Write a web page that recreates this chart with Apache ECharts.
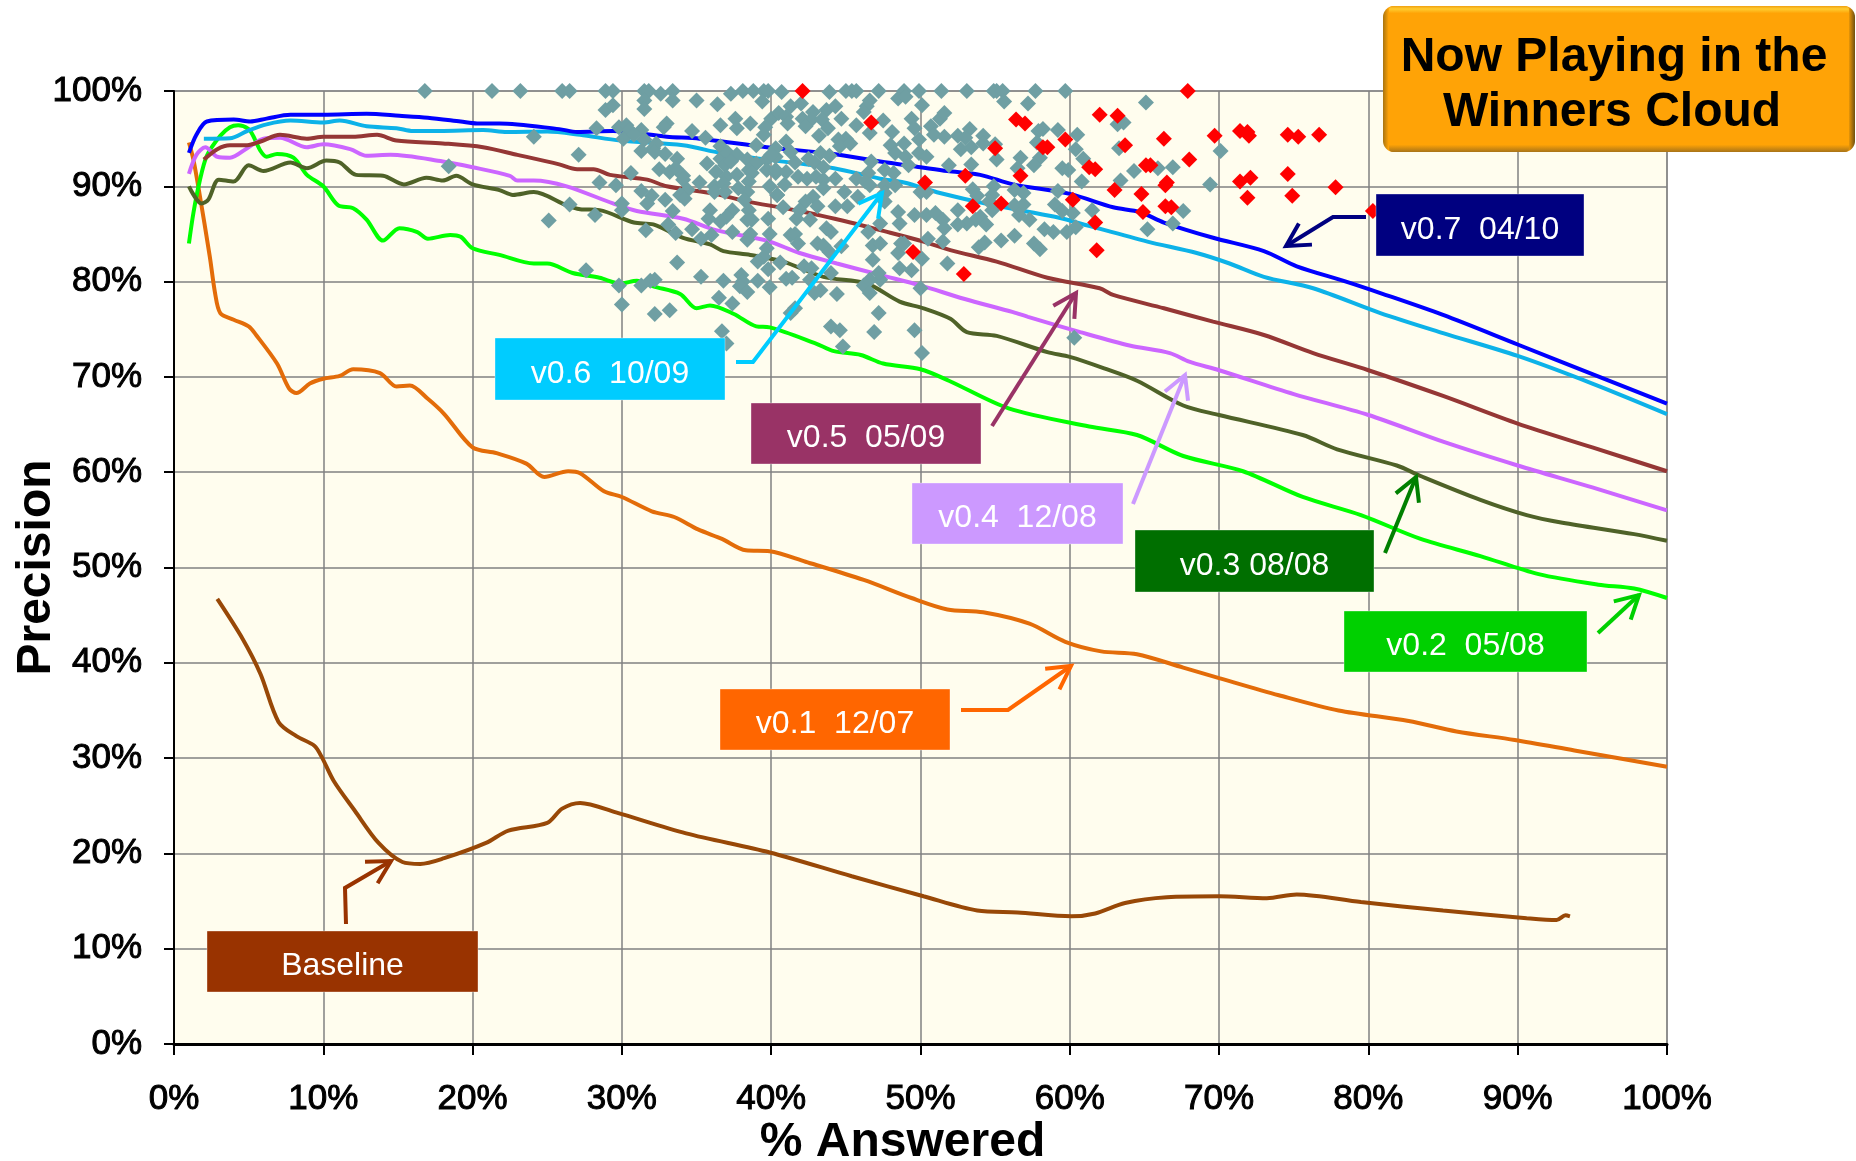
<!DOCTYPE html>
<html>
<head>
<meta charset="utf-8">
<title>Winners Cloud</title>
<script src="https://cdn.jsdelivr.net/npm/echarts@6/dist/echarts.min.js"></script>
<style>
  html, body { margin: 0; padding: 0; background: #fff; }
  #chart { width: 1856px; height: 1161px; }
</style>
</head>
<body>
<div id="chart"></div>
<script>
// precision curves, [% answered, precision]
var baseline = [[2.9,46.7],[4.6,42.5],[5.8,38.8],[7,33.8],[8.2,32.3],[9.4,31.3],[9.9,30.1],[10.7,27.6],[12.1,24.5],[13.7,21.1],[15.3,19.1],[16.5,18.9],[18.1,19.5],[20.9,21.1],[22.4,22.4],[25,23.2],[26,24.7],[27.2,25.3],[29.6,24.3],[34.3,22.1],[39.9,20.1],[45.4,17.6],[50.2,15.5],[53.8,14],[56.5,13.8],[60.1,13.4],[61.7,13.7],[63.7,14.8],[66.5,15.4],[70,15.5],[73.2,15.3],[75.2,15.7],[79.5,14.9],[85,14],[90.6,13.2],[92.6,13],[93.2,13.5],[93.5,13.4]];
var v01 = [[1,94.6],[1.3,92.8],[1.7,89.3],[2.4,82.6],[2.75,78.8],[3.1,76.7],[4,76],[5,75.3],[5.5,74.4],[6.9,71.4],[7.7,68.8],[8.2,68.3],[9.1,69.3],[10,69.8],[11.1,70.1],[12,70.8],[13.8,70.4],[14.9,69],[15.8,69.1],[17,67.7],[18.1,66.1],[20,62.6],[21.6,62],[23.6,60.9],[24.8,59.5],[26.4,60.1],[27.2,59.9],[28.8,58],[30,57.4],[32,55.9],[33.5,55.3],[35.1,54],[36.7,53],[38.3,51.8],[39.9,51.7],[42.3,50.6],[46.2,48.7],[49.4,46.8],[51.8,45.6],[54.2,45.3],[57.3,44.1],[59.7,42.2],[62.1,41.2],[64.5,40.9],[67.6,39.5],[70,38.4],[74,36.6],[78,35],[82.7,33.9],[85.9,32.8],[89.8,31.9],[93.8,30.8],[100,29.1]];
var v02 = [[1,84],[1.3,87.2],[1.7,90.4],[2.2,93.2],[3.1,95.3],[3.75,96.2],[4.3,96.4],[5,96],[5.3,95.3],[5.8,93.7],[6.2,93.1],[6.9,93.4],[8,93],[8.9,91.2],[10,90],[11,88],[12,87.7],[12.9,86.5],[14,84.3],[15.1,85.6],[16.3,85.2],[17,84.5],[18.5,84.9],[19.2,84.7],[20,83.5],[21.8,82.8],[24.1,81.9],[25,81.9],[26.7,80.9],[28.5,80.4],[29.9,79.8],[31,80.1],[32.1,79.5],[33.9,78.7],[35,77.2],[35.9,77.5],[37.5,76.6],[39,75.3],[39.9,75.2],[43,73.5],[44.2,72.7],[46,72.3],[47.5,71.4],[50,70.8],[51.9,69.6],[55.9,66.7],[61.3,64.8],[64.5,63.9],[67.6,61.7],[71.6,60.1],[75.6,57.4],[79.5,55.5],[83.5,53],[87.5,51.2],[91.4,49.3],[95.4,48.2],[97.8,47.8],[100,46.8]];
var v03 = [[1,90],[1.85,88.2],[2.3,88.6],[3,90.7],[4,90.5],[5,92.2],[6,91.6],[7.8,92.5],[8.9,91.9],[10.2,92.7],[11.1,92.5],[12.2,91.2],[14,91.1],[15.4,90.2],[16.9,90.9],[18,90.6],[18.9,91.1],[20,90.2],[21.8,89.6],[22.7,89.1],[24.1,89.4],[26.3,88],[27.2,87.6],[28.5,87.5],[30.8,86.2],[32.1,86],[34.1,84.6],[35.9,83.9],[36.8,83.2],[38.6,82.8],[40.8,82.1],[43.5,80.5],[46.4,79.8],[48.6,77.9],[50.2,77.2],[52,76.1],[53.1,74.7],[55.1,74.3],[58.5,72.6],[60,72.1],[62.3,70.9],[64.5,69.6],[67.6,67],[70,66],[75.6,63.9],[77.9,62.4],[81.9,60.7],[83.5,59.6],[87.5,57.1],[90.6,55.5],[93,54.7],[97.8,53.5],[100,52.8]];
var v04 = [[1,91.3],[1.5,93.3],[2.1,94.1],[2.9,93.1],[3.75,93],[4.9,94],[6,95],[7.1,95.1],[8.9,94.1],[10,94.4],[11.8,93.9],[12.9,93.2],[14.5,93.3],[18,92.6],[20,92],[22.5,91.1],[23,90.6],[24.1,90.6],[26.3,90],[29.4,88.2],[31,87.4],[34.1,86.6],[36.3,85.4],[39.7,84.3],[41.9,83],[44.4,81.9],[47.3,80.7],[50,79.6],[52.9,78.2],[56.2,76.8],[57.2,76.3],[60.7,74.7],[64,73.3],[66.7,72.5],[68,71.6],[70,70.7],[75,68.2],[80,66],[85,63.2],[90,60.7],[95,58.4],[100,56]];
var v05 = [[2,92.8],[2.9,93.9],[3.75,94.3],[4.9,94.3],[5.8,94.7],[7.1,95.4],[8.9,95],[10,95.2],[12,95.2],[13.6,95.4],[14.9,94.8],[18,94.5],[20.7,94.1],[23,93.3],[25.8,92.3],[27,91.8],[28.1,91.8],[29.2,91.2],[31.7,90.7],[33,90],[36.3,89.2],[38.1,88.5],[41.9,87.4],[45.3,86.2],[47.3,85.4],[50.2,84.2],[52,83.3],[55.1,82.1],[58.5,80.4],[62,79.3],[62.9,78.6],[66.3,77.2],[69.6,75.8],[73,74.4],[76.3,72.5],[80,70.7],[85,68],[90,65.1],[95,62.6],[100,60.1]];
var v06 = [[2,95],[3.75,95.05],[4.9,95.8],[6.2,96.5],[7.8,96.9],[10,96.7],[11.1,96.9],[12.9,96.3],[14.9,96.1],[16,95.8],[17.8,95.8],[20.7,95.9],[22.3,95.7],[25,95.75],[27.2,95.4],[29.9,94.8],[34.1,94.3],[36.6,93.5],[39.7,92.8],[44.2,91.9],[47.3,90.8],[48.9,90.4],[51.3,89.3],[54.9,88],[59,86.8],[60.7,86.1],[65.2,84.2],[68.5,83],[70.7,81.9],[73,80.5],[76.3,79.3],[80.8,76.7],[85,74.6],[90,72.2],[95,69.3],[100,66.1]];
var v07 = [[1,93.5],[1.5,95.4],[2.2,96.8],[4,97],[5.1,96.8],[6.2,97.1],[7.8,97.5],[10,97.5],[12.9,97.6],[15.1,97.4],[17,97.2],[19.2,96.8],[20.3,96.6],[21.8,96.6],[25.8,96],[27,95.7],[29.4,95.8],[33,95.2],[35.2,95],[39.7,94.1],[44.2,93.4],[47.3,92.6],[50,92],[51.8,91.6],[54,91.2],[56.2,90.2],[60,89.2],[62.9,87.8],[64.7,87.3],[66.3,86.2],[69.6,84.6],[73,83.2],[75.2,81.6],[78.5,80],[80.8,78.8],[85,76.5],[90,73.4],[95,70.3],[100,67.2]];

// people in the cloud
var cloudTeal = [[16.8,100],[21.3,100],[23.2,100],[26,100],[26.5,100],[24.1,95.2],[28.3,96.1],[27.1,93.3],[18.4,92.1],[26.5,88.1],[25.1,86.4],[28.2,87],[27.6,81.2],[28.9,100],[29.4,100],[28.9,98],[29.4,98.5],[28.5,90.4],[29.6,90.1],[30,87.5],[29.8,79.6],[30,77.6],[31.3,79.6],[31.9,80.1],[32.2,80.2],[32.2,76.6],[33.2,77],[33.7,82],[31.6,85.4],[33.4,87.4],[33.1,86],[33.6,85.1],[34.7,85.5],
[31.5,100],[31.8,100],[32.6,99.7],[33.4,100],[31.5,99],[33.4,99],[35,99],[37.3,99.7],[38.1,100],[38.8,100],[39.5,100],[39.8,100],[39.4,98.9],[36.4,98.6],[31.5,98.1],[40,97.1],[37.6,97.1],[38.6,96.6],[36.6,96.4],[33,96.6],[32.8,96.2],[37.7,96.1],[39.6,96.2],[39.5,95.4],[29.8,96.2],[30.3,96.4],[30.5,95.9],[31.3,95.9],[34.7,95.8],[35.6,95.1],[30.1,95],[30.8,95.4],[31.5,94.9],[39,94.3],[36.6,94.2],[32.3,94.5],[32.1,94],[31.3,93.7],[32.9,93.4],[32.2,93.6],[33.7,92.9],[35.7,92.4],[36.6,92.9],[37.1,93.5],[37.7,93.3],[38.4,92.8],[39,92.4],[39.7,92.8],[40.3,93.1],[36.9,92.2],[37.3,92.6],[36.3,91.5],[32.5,91.8],[33.2,91.5],[33.6,91.9],[34.1,91.1],[34.1,90.7],[37,91],[37.7,91.2],[38.5,91.7],[38.7,91.4],[39.7,91.7],[40.3,91.4],[30.6,91.4],[35.2,90.4],[36.2,90],[36.8,90.3],[38.5,90.5],[39.9,90],[36.2,89.4],[36.9,89.4],[34.4,89.6],[33.9,89.1],[31.3,89.5],[32,89],[34.2,88.7],[38.4,89.4],[37.8,89.8],[40.4,89.1],[31.7,88.2],[32.9,88.6],[30,88.2],[38.2,88.6],
[40.7,99.9],[43.9,99.9],[45,100],[45.4,100],[45.7,100],[47.2,100],[48.9,100],[48.5,99.2],[49,99.4],[49.9,100],[51.4,100],[46.6,99],[46.4,98.4],[46.2,97.8],[50.1,98.5],[41.3,98.4],[42,98.7],[40.5,97.7],[43.7,98],[44.3,98.4],[42.8,97.8],[41,97.3],[41.1,96.6],[42.1,97.1],[42.7,97],[44.7,97.1],[43.4,97],[42.3,96.3],[43.8,96.1],[45.7,96.4],[47.5,96.9],[49.4,97.1],[51.3,97.1],[51.6,97.7],[46.6,95.6],[48.1,95.7],[49.6,96.1],[50.7,96.3],[50.9,95.4],[51.6,95.2],[43.2,95.3],[45,95],[44.5,94.9],[49.9,94.9],[48.9,94.5],[48,94.3],[41,94.7],[40.3,94],[41.3,93.6],[40,93.3],[44.6,94.2],[45.3,94.5],[48.3,93.5],[49,93.1],[49.9,93.5],[50.4,93.1],[51.9,92.2],[43.3,93.5],[43.9,93.2],[42.5,92.9],[41.6,92.5],[42.9,92.5],[40.3,91.7],[41,91.5],[43.5,92],[46.7,92.6],[47.6,91.7],[48.2,91.4],[49.2,92.2],[46.5,91.4],[41.8,91],[42.4,90.8],[43,91],[43.5,90.7],[44.3,90.8],[40.9,90.2],[45.7,90.8],[46.3,90.5],[46.6,90.1],[47.6,90.1],[48.3,90.1],[50,89.4],[50.4,89.4],[40.4,89.1],[43.5,89.8],[42.8,88.9],[42.3,88.4],[44.9,89.4],[45.8,88.9],[47.6,89.3],
[35.9,87.5],[37.4,87.5],[37,86.8],[36.6,86.3],[35.8,86.6],[38.5,87.5],[38.4,86.5],[39.8,86.6],[38.7,86.5],[36,84.9],[35.3,84.5],[37.4,85.2],[38.6,85],[39.9,85],[38.4,84.4],[41.3,84.9],[41.6,85],[41.8,84],[43.1,84],[43.5,83.8],[44.7,83.7],[43.9,83.1],[39.7,83.5],[39.5,82.6],[39.1,82.1],[40.6,82],[39.8,81.3],[42.2,81.6],[42.7,81.4],[44,80.9],[35.3,80.5],[36.8,80.1],[38,80.7],[38.1,80],[37.9,79.5],[39.1,80.1],[38.4,78.9],[39.9,79.4],[41,80.3],[41.4,80.4],[42.6,80.2],[43.3,79.1],[42.9,78.8],[44.4,78.7],[36.5,78.3],[37.4,77.7],[41.6,77.2],[41.3,76.7],[47.2,76.7],[44,75.3],[44.6,74.9],[46.9,74.7],[49.6,74.9],[36.7,74.8],[37,73.5],[44.8,73.2],[50.1,72.5],[46.2,79.6],[46.6,80.2],[46.6,78.8],[47.3,80.2],[47.2,80.9],[50,79.3],[48.6,81.4],[49.4,81.2],[48.5,83],[48.7,84],[46.8,82.3],[46.8,83.8],[47.3,84],[48.9,84],[50.1,82.4],[51.8,81.9],[50.5,84.5],[46.5,85.2],[47.3,86.1],[48.6,86.1],[48.5,87.3],[49.6,87],[50.4,87],[51,87.2],[51.5,86.5],[51.6,85.6],[51.5,84.2],[45.1,87.9],[44.3,87.9],[43.1,87.9],[41.9,87.5],[40.8,87.8],[42.6,86.5],[43.7,85.6],[44,85.2],[41.7,86.6],[47.6,88.4],
[53.1,100],[54.9,100],[55.1,100],[55.5,100],[57.7,100],[59.7,100],[55.6,98.9],[57.2,98.7],[65.1,98.8],[53.3,96],[52.5,95.3],[53,95.1],[54.2,95.3],[54.2,94.5],[52.7,93.9],[53.4,94.1],[55,94.4],[55.1,92.8],[53.4,92.3],[57.9,95.8],[58.2,96],[59.2,95.9],[60.5,95.4],[57.8,94.6],[60.4,93.9],[60.9,92.9],[58,93],[57.6,92.2],[56.7,93],[56.5,91.9],[59.5,91.9],[59.9,91.7],[60.8,90.5],[63.4,90.6],[63.3,94],[63.2,96.5],[63.6,96.7],[64.3,91.6],[65.9,91.9],[66.9,92],[70.1,93.7],[69.4,90.2],[53.5,89.7],[53.8,89],[54.9,90],[54.8,89.1],[54.6,88.4],[56.3,89.6],[56.9,89.3],[56.3,88],[56.9,88.1],[54.8,87.5],[56.6,87],[57.3,86.5],[54,86.8],[53.7,86.5],[53.1,86.1],[52.5,87.5],[52.5,86],[54.4,86],[59.2,89.5],[59,88.1],[59.5,87.4],[60.2,87.2],[61.5,87.5],[60.4,85.7],[59.8,85.2],[58.9,85.2],[58.3,85.5],[56.3,84.8],[55.4,84.3],[57.6,84],[58,83.4],[54.3,84.1],[53.9,83.6],[65.2,85.5],[67.6,87.4],[66.9,86.1],[60.3,74.1]];
var cloudRed = [[42.1,100],[46.7,96.7],[67.9,100],[56.4,97],[57,96.6],[62,97.5],[63.2,97.4],[55,94],[58.5,94.1],[58.2,94.1],[59.7,94.9],[63.7,94.3],[66.3,95],[69.7,95.3],[71.4,95.8],[71.9,95.7],[72,95.3],[74.6,95.4],[75.3,95.2],[76.7,95.4],[68,92.8],[61.3,92],[61.7,91.8],[65.1,92.2],[65.4,92.2],[56.7,91.1],[53,91.1],[50.3,90.4],[63,89.6],[66.4,90.1],[66.5,90.4],[71.4,90.5],[72.1,90.9],[74.6,91.3],[77.8,89.9],[64.8,89.2],[71.9,88.8],[74.9,89],[60.2,88.6],[55.4,88.2],[53.5,87.9],[66.4,87.9],[66.8,87.8],[64.9,87.3],[61.7,86.2],[80.3,87.4],[49.5,83.1],[61.8,83.3],[52.9,80.8]];

var lineNames = ["Baseline", "v0.1", "v0.2", "v0.3", "v0.4", "v0.5", "v0.6", "v0.7"];
var lineData = [baseline, v01, v02, v03, v04, v05, v06, v07];
var lineColors = ["#984807", "#E36C09", "#00FF00", "#4F6228", "#CC66FF", "#953735", "#0DB2E8", "#0000FF"];

// labelled boxes: text, fill, left, top, right, bottom
var boxes = [
  ["v0.7  04/10", "#000080", 1376, 194, 1584, 256],
  ["v0.6  10/09", "#00CCFF", 495, 338, 725, 400],
  ["v0.5  05/09", "#993366", 751, 403, 981, 464],
  ["v0.4  12/08", "#CC99FF", 912, 483, 1123, 544],
  ["v0.3 08/08", "#006F00", 1135, 530, 1374, 592],
  ["v0.2  05/08", "#00D000", 1344, 611, 1587, 672],
  ["v0.1  12/07", "#FF6600", 720, 689, 950, 750],
  ["Baseline", "#993300", 207, 931, 478, 992]
];
// pointer lines from the boxes to their curves
var arrows = [
  ["#000080", [[1366, 217], [1333, 217], [1286, 246]]],
  ["#00CCFF", [[736, 362], [753, 362], [882, 193]]],
  ["#993366", [[992, 426], [1076, 293]]],
  ["#CC99FF", [[1133, 504], [1185, 375]]],
  ["#008000", [[1385, 553], [1416, 477]]],
  ["#00D000", [[1598, 633], [1639, 595]]],
  ["#FF6600", [[961, 710], [1008, 710], [1071, 666]]],
  ["#993300", [[346, 924], [345, 888], [391, 861]]]
];

var chart = echarts.init(document.getElementById("chart"));

function arrowShapes(item) {
  var color = item[0], pts = item[1];
  var a = pts[pts.length - 2], b = pts[pts.length - 1];
  var ang = Math.atan2(b[1] - a[1], b[0] - a[0]);
  var wing = function (d) {
    return [b[0] - 26 * Math.cos(ang + d), b[1] - 26 * Math.sin(ang + d)];
  };
  var style = { stroke: color, fill: null, lineWidth: 4 };
  return [
    { type: "polyline", z: 10, shape: { points: pts }, style: style },
    { type: "polyline", z: 10, shape: { points: [wing(0.5), b, wing(-0.5)] }, style: style }
  ];
}

var graphics = [];
arrows.forEach(function (item) {
  graphics = graphics.concat(arrowShapes(item));
});
boxes.forEach(function (b) {
  graphics.push({
    type: "rect",
    z: 11,
    shape: { x: b[2], y: b[3], width: b[4] - b[2], height: b[5] - b[3] },
    style: { fill: b[1], stroke: "rgba(255,255,255,0.35)", lineWidth: 1 }
  });
  graphics.push({
    type: "text",
    z: 12,
    x: (b[2] + b[4]) / 2,
    y: (b[3] + b[5]) / 2 + 5,
    style: {
      text: b[0],
      fill: "#fff",
      font: "32px 'Liberation Sans', Arial, sans-serif",
      align: "center",
      verticalAlign: "middle"
    }
  });
});
// bevelled title button
graphics.push({
  type: "rect",
  z: 13,
  shape: { x: 1383, y: 6, width: 472, height: 146, r: 11 },
  style: {
    fill: {
      type: "linear", x: 0, y: 0, x2: 1, y2: 0,
      colorStops: [
        { offset: 0, color: "#A87410" },
        { offset: 0.012, color: "#FFA306" },
        { offset: 0.985, color: "#FFA306" },
        { offset: 1, color: "#6E5010" }
      ]
    }
  }
});
graphics.push({
  type: "rect",
  z: 14,
  shape: { x: 1389, y: 6, width: 460, height: 146, r: 4 },
  style: {
    fill: {
      type: "linear", x: 0, y: 0, x2: 0, y2: 1,
      colorStops: [
        { offset: 0, color: "#F0A010" },
        { offset: 0.02, color: "#FFCC30" },
        { offset: 0.05, color: "#FFA306" },
        { offset: 0.95, color: "#FFA306" },
        { offset: 1, color: "#A87418" }
      ]
    }
  }
});
graphics.push({
  type: "text",
  z: 15,
  x: 1614,
  y: 58,
  style: { text: "Now Playing in the", fill: "#000", font: "bold 48px 'Liberation Sans', Arial, sans-serif", align: "center", verticalAlign: "middle" }
});
graphics.push({
  type: "text",
  z: 15,
  x: 1612,
  y: 113,
  style: { text: "Winners Cloud", fill: "#000", font: "bold 48px 'Liberation Sans', Arial, sans-serif", align: "center", verticalAlign: "middle" }
});

var series = lineNames.map(function (name, i) {
  return {
    name: name,
    type: "line",
    data: lineData[i],
    smooth: 0.3,
    showSymbol: false,
    z: 3,
    lineStyle: { color: lineColors[i], width: 4 }
  };
});
series.push({
  name: "Cloud",
  type: "scatter",
  data: cloudTeal,
  symbol: "diamond",
  symbolSize: 16,
  clip: false,
  z: 4,
  itemStyle: { color: "#6F9FA3", opacity: 1 }
});
series.push({
  name: "Winners",
  type: "scatter",
  data: cloudRed,
  symbol: "diamond",
  symbolSize: 16,
  clip: false,
  z: 5,
  itemStyle: { color: "#FF0000", opacity: 1 }
});

var tickFont = {
  color: "#000",
  fontSize: 35,
  fontFamily: "'Liberation Sans', Arial, sans-serif",
  textBorderColor: "#000",
  textBorderWidth: 1
};
var nameFont = {
  color: "#000",
  fontSize: 48,
  fontWeight: "bold",
  fontFamily: "'Liberation Sans', Arial, sans-serif"
};

var option = {
  animation: false,
  backgroundColor: "#fff",
  grid: {
    left: 174,
    right: 189,
    top: 91,
    bottom: 117,
    outerBoundsMode: "none",
    show: true,
    backgroundColor: "#FFFDEE",
    borderColor: "#808080",
    borderWidth: 1
  },
  xAxis: {
    type: "value",
    min: 0,
    max: 100,
    interval: 10,
    name: "% Answered",
    nameLocation: "middle",
    nameGap: 75,
    nameMoveOverlap: false,
    nameTextStyle: Object.assign({ padding: [0, 36, 0, 0] }, nameFont),
    axisLabel: Object.assign({ formatter: "{value}%", margin: 38 }, tickFont),
    axisLine: { show: true, onZero: false, lineStyle: { color: "#000", width: 3 } },
    axisTick: { show: true, length: 11, lineStyle: { color: "#000", width: 2 } },
    splitLine: { show: true, lineStyle: { color: "#808080", width: 1.5 } }
  },
  yAxis: {
    type: "value",
    min: 0,
    max: 100,
    interval: 10,
    name: "Precision",
    nameLocation: "middle",
    nameGap: 113,
    nameMoveOverlap: false,
    nameTextStyle: nameFont,
    axisLabel: Object.assign({ formatter: "{value}%", margin: 32, padding: [6, 0, 0, 0] }, tickFont),
    axisLine: { show: true, onZero: false, lineStyle: { color: "#000", width: 2 } },
    axisTick: { show: true, length: 10, lineStyle: { color: "#000", width: 2 } },
    splitLine: { show: true, lineStyle: { color: "#808080", width: 1.5 } }
  },
  graphic: graphics,
  series: series
};
chart.setOption(option);
</script>
</body>
</html>
